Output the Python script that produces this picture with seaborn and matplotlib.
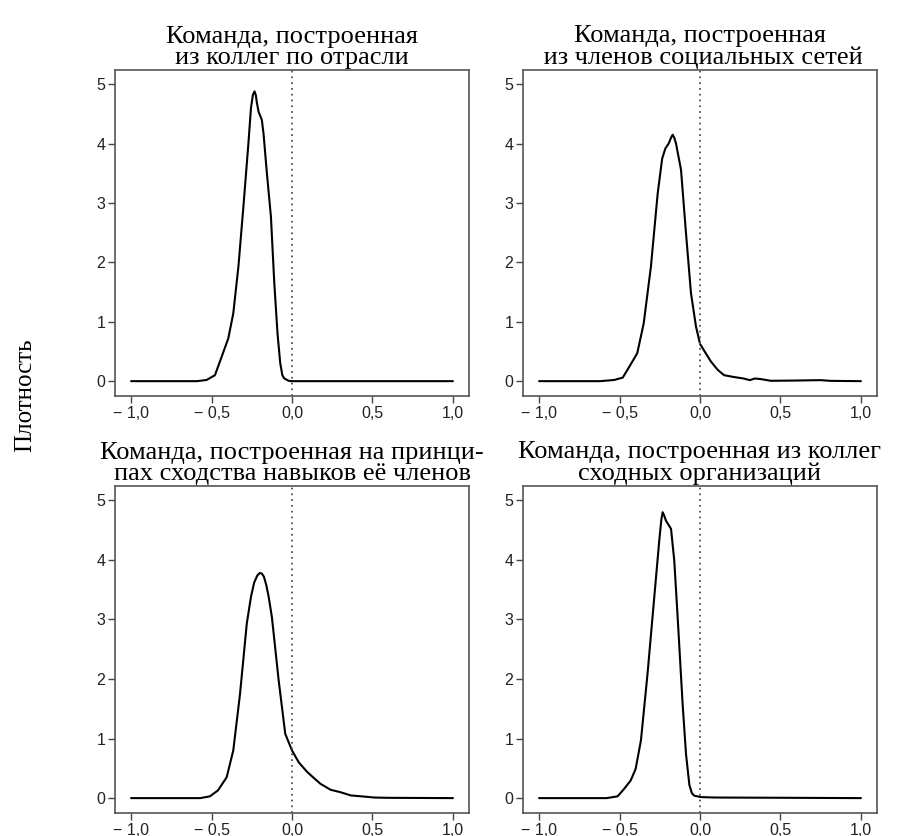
import numpy as np
import pandas as pd
import matplotlib
matplotlib.use("Agg")
import matplotlib.pyplot as plt
import seaborn as sns

sns.set_theme(style="white")
plt.rcParams['font.family'] = ['Liberation Serif', 'DejaVu Serif']

titles = [
    "Команда, построенная\nиз коллег по отрасли",
    "Команда, построенная\n из членов социальных сетей",
    "Команда, построенная на принци-\nпах сходства навыков её членов",
    "Команда, построенная из коллег\nсходных организаций",
]

# Density curves (x = correlation, y = density)
x1 = [-1.0, -0.59, -0.531, -0.479, -0.448, -0.396, -0.365, -0.333, -0.302, -0.271,
      -0.255, -0.243, -0.233, -0.225, -0.219, -0.208, -0.1875, -0.177, -0.156, -0.131,
      -0.11, -0.09, -0.073, -0.06, -0.048, -0.02, 0.0, 1.0]
y1 = [0.0, 0.0, 0.02, 0.1, 0.33, 0.72, 1.14, 1.93, 2.94, 4.0,
      4.6, 4.82, 4.88, 4.82, 4.7, 4.54, 4.4, 4.17, 3.5, 2.77,
      1.65, 0.8, 0.3, 0.1, 0.045, 0.005, 0.0, 0.0]

x2 = [-1.0, -0.62, -0.533, -0.48, -0.44, -0.39, -0.35, -0.305, -0.263, -0.235,
      -0.215, -0.195, -0.18, -0.17, -0.16, -0.149, -0.118, -0.087, -0.056, -0.025,
      0.0, 0.031, 0.068, 0.11, 0.15, 0.21, 0.27, 0.31, 0.34, 0.38,
      0.44, 0.585, 0.75, 0.81, 1.0]
y2 = [0.0, 0.0, 0.02, 0.06, 0.24, 0.47, 0.97, 1.93, 3.16, 3.75,
      3.92, 4.0, 4.1, 4.15, 4.1, 4.0, 3.56, 2.49, 1.48, 0.92,
      0.63, 0.49, 0.33, 0.19, 0.1, 0.07, 0.045, 0.017, 0.045, 0.034,
      0.006, 0.01, 0.017, 0.005, 0.0]

x3 = [-1.0, -0.57, -0.51, -0.46, -0.406, -0.365, -0.323, -0.281, -0.255, -0.235,
      -0.215, -0.2, -0.1875, -0.175, -0.16, -0.145, -0.125, -0.083, -0.042, 0.0,
      0.042, 0.094, 0.135, 0.177, 0.24, 0.30, 0.365, 0.43, 0.51, 0.59, 1.0]
y3 = [0.0, 0.0, 0.03, 0.13, 0.35, 0.8, 1.75, 2.93, 3.38, 3.62,
      3.74, 3.78, 3.77, 3.72, 3.58, 3.38, 3.04, 1.98, 1.08, 0.8,
      0.6, 0.44, 0.34, 0.24, 0.14, 0.1, 0.045, 0.03, 0.01, 0.005, 0.0]

x4 = [-1.0, -0.58, -0.512, -0.47, -0.43, -0.40, -0.367, -0.326, -0.284, -0.253,
      -0.24, -0.232, -0.222, -0.212, -0.18, -0.16, -0.139, -0.108, -0.087, -0.066,
      -0.05, -0.035, 0.006, 0.09, 1.0]
y4 = [0.0, 0.0, 0.03, 0.16, 0.3, 0.49, 0.97, 2.09, 3.38, 4.33,
      4.68, 4.8, 4.74, 4.66, 4.52, 3.99, 3.04, 1.58, 0.74, 0.22,
      0.08, 0.04, 0.017, 0.01, 0.0]

series = [(x1, y1), (x2, y2), (x3, y3), (x4, y4)]

xticks = [-1.0, -0.5, 0.0, 0.5, 1.0]
xticklabels = ["\u2212 1,0", "\u2212 0,5", "0,0", "0,5", "1,0"]
yticks = [0, 1, 2, 3, 4, 5]
ylabel = "Плотность"

W, H = 898, 836
fig = plt.figure(figsize=(W / 100, H / 100), dpi=100)

boxes = [
    (115, 70, 469, 396),
    (523, 70, 877, 396),
    (115, 486, 469, 813),
    (523, 486, 877, 813),
]

for (l, t, r, b), (xs, ys), title in zip(boxes, series, titles):
    ax = fig.add_axes([l / W, 1 - b / H, (r - l) / W, (b - t) / H])
    df = pd.DataFrame({"x": xs, "y": ys})
    sns.lineplot(data=df, x="x", y="y", ax=ax, color="black", linewidth=1.5,
                 sort=False, estimator=None)
    ax.axvline(0, color="#555555", linestyle=(0, (1, 2.2)), linewidth=1.3)
    ax.set_xlim(-1.1, 1.1)
    ax.set_ylim(-0.25, 5.24)
    ax.set_xticks(xticks)
    ax.set_xticklabels(xticklabels, fontfamily="Liberation Sans", fontsize=11.5)
    ax.set_yticks(yticks)
    ax.set_yticklabels([str(v) for v in yticks], fontfamily="Liberation Sans", fontsize=11.5)
    ax.tick_params(axis="both", direction="out", length=5, width=1.0,
                   color="#444444", pad=2, labelcolor="#222222",
                   bottom=True, left=True)
    ax.set_xlabel("")
    ax.set_ylabel("")
    for s in ax.spines.values():
        s.set_color("#555555")
        s.set_linewidth(1.2)
    ax.set_title(title, fontsize=19, linespacing=0.98, pad=4, color="black")

fig.text(25 / W, 1 - 395 / H, ylabel, rotation=90, ha="center", va="center",
         fontsize=18, color="black")

fig.savefig("out.png", dpi=100, facecolor="white")
